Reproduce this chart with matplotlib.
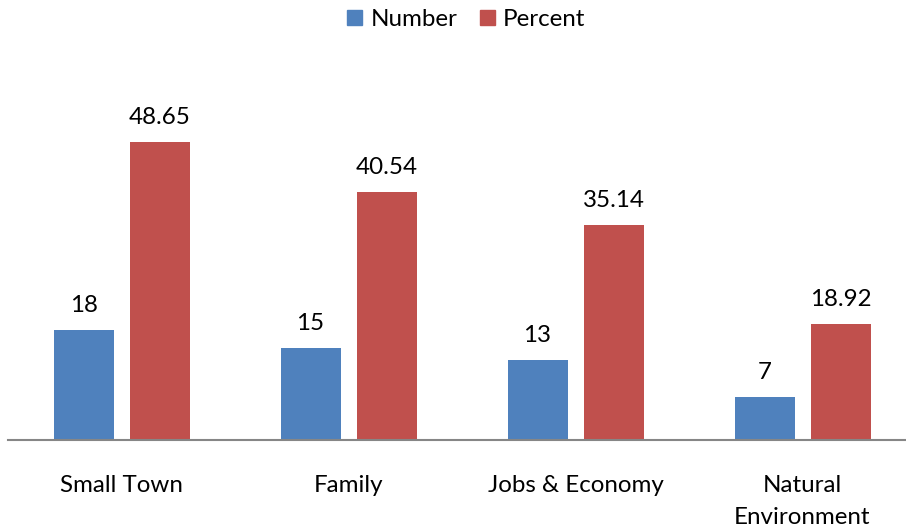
import numpy as np
import matplotlib.pyplot as plt
from matplotlib.patches import Patch

plt.rcParams['font.family'] = ['Lato', 'DejaVu Sans']

categories = ["Small Town", "Family", "Jobs & Economy", "Natural\nEnvironment"]
number = [18, 15, 13, 7]
percent = [48.65, 40.54, 35.14, 18.92]

blue = "#4F81BD"
red = "#C0504D"
fs = 17.4

fig = plt.figure(figsize=(9.06, 5.27), dpi=100)
# plot area runs a little past the right edge, like the original export
ax = fig.add_axes([8 / 906, 87 / 527, 908 / 906, 367.5 / 527])

x = np.arange(len(categories))
w = 60 / 227
off = 38 / 227
b1 = ax.bar(x - off, number, w, color=blue)
b2 = ax.bar(x + off, percent, w, color=red)

for bars, vals, fmt in ((b1, number, "{:d}"), (b2, percent, "{:.2f}")):
    for rect, v in zip(bars, vals):
        ax.annotate(fmt.format(v),
                    (rect.get_x() + rect.get_width() / 2, v),
                    xytext=(0, 10), textcoords="offset points",
                    ha="center", va="bottom", fontsize=fs)

ax.set_xlim(-0.5, 3.5)
ax.set_ylim(0, 60)
ax.set_xticks(x)
ax.set_xticklabels(categories, fontsize=fs, linespacing=1.65)
ax.tick_params(axis="x", length=0, pad=25.5)
ax.set_yticks([])
for s in ("top", "right", "left"):
    ax.spines[s].set_visible(False)
ax.spines["bottom"].set_color("#868686")
ax.spines["bottom"].set_linewidth(1.5)

handles = [Patch(color=blue, label="Number"), Patch(color=red, label="Percent")]
fig.legend(handles=handles, loc="upper center", bbox_to_anchor=(0.5145, 1.024),
           ncol=2, frameon=False, fontsize=fs, handlelength=0.62,
           handleheight=0.62, handletextpad=0.35, columnspacing=0.93)

fig.savefig("out.png", dpi=100)
